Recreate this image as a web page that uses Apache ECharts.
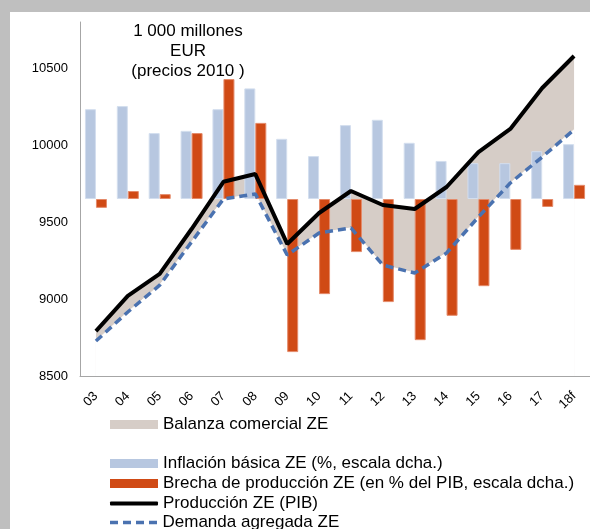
<!DOCTYPE html>
<html>
<head>
<meta charset="utf-8">
<script src="https://cdn.jsdelivr.net/npm/echarts@6/dist/echarts.min.js"></script>
<style>
  html, body { margin: 0; padding: 0; background: #fff; }
  #chart { width: 590px; height: 529px; }
</style>
</head>
<body>
<div id="chart"></div>
<script>
// años (eje X)
var years = ['03', '04', '05', '06', '07', '08', '09', '10', '11', '12', '13', '14', '15', '16', '17', '18f'];
// 1 000 millones EUR, precios 2010 (eje izq.)
var produccion = [8792, 9020, 9163, 9455, 9762, 9812, 9358, 9559, 9702, 9611, 9585, 9728, 9955, 10105, 10371, 10579];
var demanda = [8727, 8916, 9090, 9371, 9650, 9683, 9286, 9429, 9462, 9221, 9169, 9299, 9533, 9754, 9923, 10100];
// % (eje dcho.)
var inflacion = [2.03, 2.1, 1.49, 1.54, 2.03, 2.5, 1.36, 0.97, 1.67, 1.79, 1.27, 0.86, 0.81, 0.81, 1.08, 1.24];
var brecha = [-0.2, 0.18, 0.11, 1.49, 2.71, 1.72, -3.46, -2.15, -1.2, -2.33, -3.19, -2.64, -1.97, -1.15, -0.18, 0.32];

var font = 'Liberation Sans, Arial, sans-serif';
var chart = echarts.init(document.getElementById('chart'));

// icono de línea discontinua para la leyenda
var dashIcon = 'path://M0,0h8v3.5h-8z M13,0h8v3.5h-8z M26,0h8v3.5h-8z M39,0h8v3.5h-8z';

function legendAt(name, top, icon, h) {
    return {
        data: [{ name: name, icon: icon }],
        left: 110,
        top: top,
        padding: 0,
        itemWidth: 48,
        itemHeight: h || 9,
        itemGap: 5,
        selectedMode: false,
        itemStyle: { borderWidth: 0 },
        lineStyle: { width: 0 },
        textStyle: { fontFamily: font, fontSize: 17, color: '#000' }
    };
}

var option = {
    animation: false,
    backgroundColor: '#fff',
    graphic: [
        { type: 'rect', shape: { x: 0, y: 0, width: 590, height: 12 }, style: { fill: '#bfbfbf' }, z: 100 },
        { type: 'rect', shape: { x: 0, y: 0, width: 10, height: 529 }, style: { fill: '#bfbfbf' }, z: 100 },
        {
            type: 'text', x: 188, y: 21, z: 100,
            style: {
                text: '1 000 millones\nEUR\n(precios 2010 )',
                font: '17px ' + font, fill: '#000',
                align: 'center', verticalAlign: 'top', lineHeight: 20
            }
        }
    ],
    legend: [
        legendAt('Balanza comercial ZE', 416, 'rect'),
        legendAt('Inflación básica ZE (%, escala dcha.)', 455, 'rect'),
        legendAt('Brecha de producción ZE (en % del PIB, escala dcha.)', 475, 'rect'),
        legendAt('Producción ZE (PIB)', 495, 'roundRect', 4),
        legendAt('Demanda agregada ZE', 514, dashIcon, 3.5)
    ],
    grid: { left: 80, right: -5, top: 22, bottom: 153 },
    xAxis: {
        type: 'category',
        data: years,
        z: 10,
        axisLine: { onZero: false, lineStyle: { color: '#a6a6a6', width: 1 } },
        axisTick: { show: false },
        axisLabel: { rotate: 45, margin: 18, fontFamily: font, fontSize: 13, color: '#000', interval: 0 }
    },
    yAxis: [{
        type: 'value',
        min: 8500,
        max: 10800,
        interval: 500,
        axisLine: { show: true, lineStyle: { color: '#a6a6a6', width: 1 } },
        axisTick: { show: false },
        splitLine: { show: false },
        axisLabel: {
            margin: 12, fontFamily: font, fontSize: 13, color: '#000', showMaxLabel: false,
            formatter: function (v) { return String(v); }
        }
    }, {
        type: 'value',
        min: -4,
        max: 4,
        show: false,
        splitLine: { show: false }
    }],
    series: [
        {
            name: 'Balanza comercial ZE',
            type: 'line',
            data: produccion,
            symbol: 'none',
            z: 1,
            color: '#d6cdc7',
            lineStyle: { width: 0 },
            areaStyle: { color: '#d6cdc7', opacity: 1, origin: 'start' }
        },
        {
            name: 'mask',
            type: 'line',
            data: demanda,
            symbol: 'none',
            z: 1,
            lineStyle: { width: 1, color: '#fff' },
            areaStyle: { color: '#fff', opacity: 1, origin: 'start' }
        },
        {
            name: 'Inflación básica ZE (%, escala dcha.)',
            type: 'bar',
            yAxisIndex: 1,
            data: inflacion,
            barWidth: 11,
            barGap: '0%',
            z: 2,
            color: '#b7c7e0',
            itemStyle: { color: '#b7c7e0', borderColor: '#d3deee', borderWidth: 1 }
        },
        {
            name: 'Brecha de producción ZE (en % del PIB, escala dcha.)',
            type: 'bar',
            yAxisIndex: 1,
            data: brecha,
            barWidth: 11,
            barGap: '0%',
            z: 2,
            color: '#d04a15',
            itemStyle: { color: '#d04a15', borderColor: '#e48a6a', borderWidth: 1 }
        },
        {
            name: 'Producción ZE (PIB)',
            type: 'line',
            data: produccion,
            symbol: 'none',
            z: 3,
            color: '#000',
            lineStyle: { color: '#000', width: 4 }
        },
        {
            name: 'Demanda agregada ZE',
            type: 'line',
            data: demanda,
            symbol: 'none',
            z: 3,
            color: '#4a72b0',
            lineStyle: { color: '#4a72b0', width: 3.5, type: [8, 5] }
        }
    ]
};

chart.setOption(option);
</script>
</body>
</html>
